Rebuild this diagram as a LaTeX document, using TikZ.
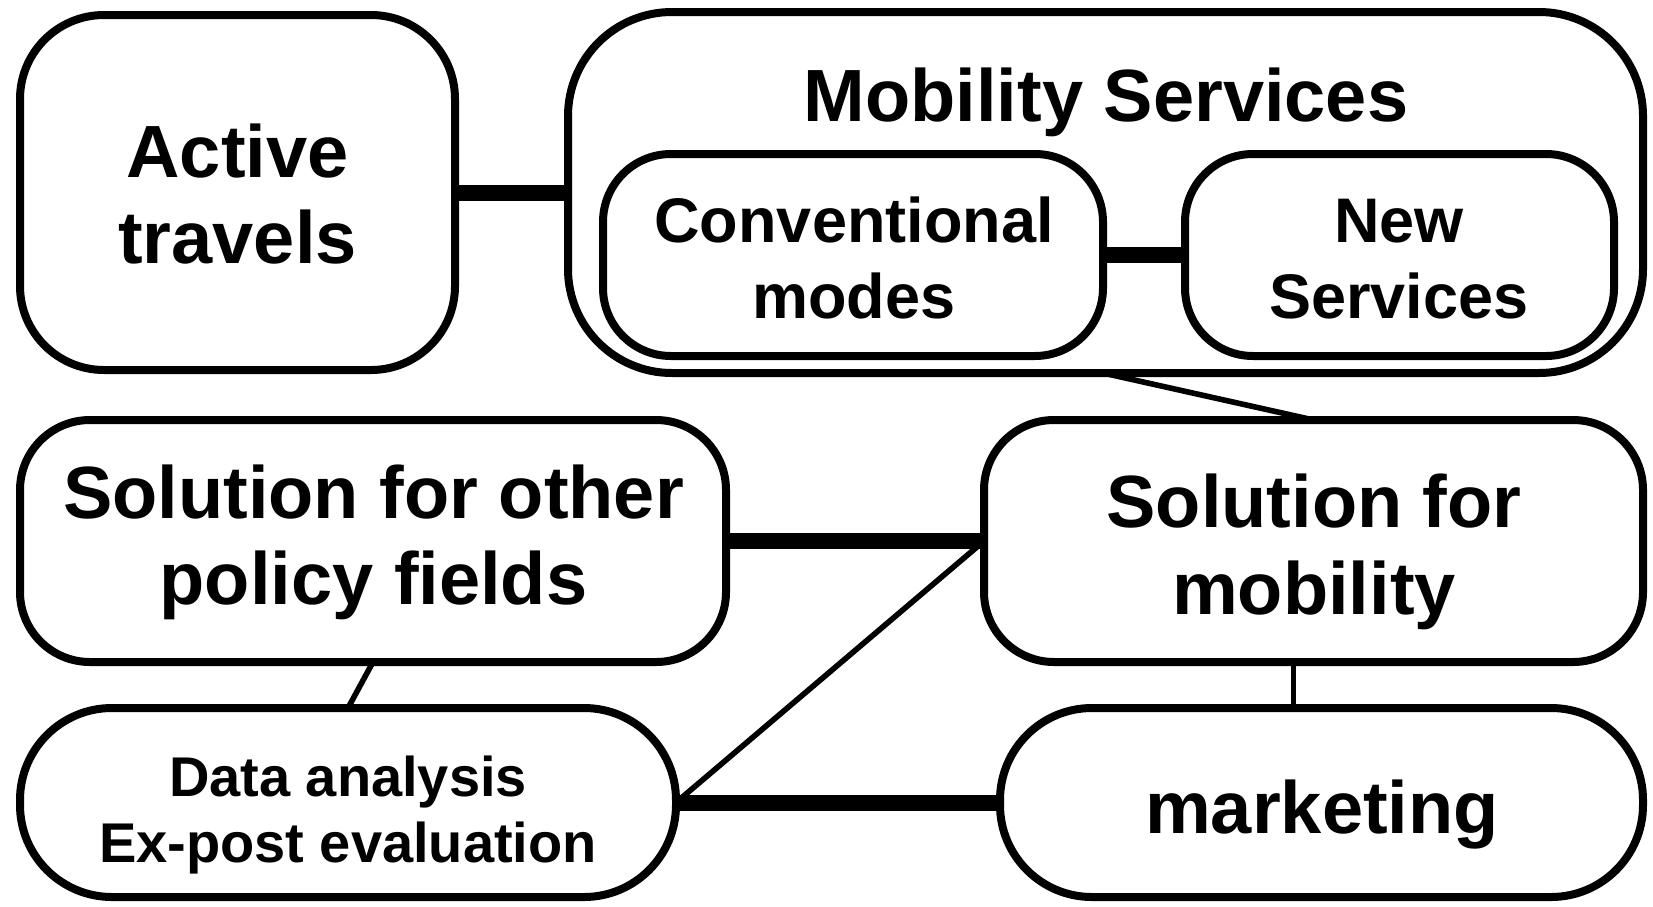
\documentclass[tikz,border=0pt]{standalone}
\usepackage{fontspec}
\setmainfont{Liberation Sans}
\begin{document}
\begin{tikzpicture}[x=0.5pt,y=-0.5pt,
  box/.style={draw, line width=4pt, rounded corners=#1, inner sep=0pt, outer sep=0pt},
  lab/.style={anchor=base, inner sep=0pt, font=\bfseries\fontsize{37}{43}\selectfont},
  labm/.style={anchor=base, inner sep=0pt, font=\bfseries\fontsize{31.5}{38}\selectfont},
  labs/.style={anchor=base, inner sep=0pt, font=\bfseries\fontsize{28}{33}\selectfont},
  heavy/.style={line width=8pt},
  light/.style={line width=2.8pt}]
\useasboundingbox (0,0) rectangle (1653,906);
% boxes
\node[box=42pt, minimum width=217.5pt, minimum height=177.5pt] (act) at (237.5,192.5) {};
\node[box=52pt, minimum width=537.5pt, minimum height=180.5pt] (mob) at (1105.5,192.5) {};
\node[box=34pt, minimum width=250pt, minimum height=101pt] (conv) at (853,255) {};
\node[box=34pt, minimum width=214.5pt, minimum height=101pt] (new) at (1399.5,255) {};
\node[box=35pt, minimum width=353pt, minimum height=121pt] (sop) at (373,541) {};
\node[box=35pt, minimum width=329.5pt, minimum height=121pt] (smob) at (1313.5,541) {};
\node[box=46pt, minimum width=328pt, minimum height=94.5pt] (data) at (348,802.5) {};
\node[box=46pt, minimum width=321.5pt, minimum height=94.5pt] (mkt) at (1321.5,802.5) {};
% labels
\node[lab] (act1) at (237.5,177) {Active};
\node[lab] (act2) at (237.5,263.5) {travels};
\node[lab] (mob1) at (1106,121) {Mobility Services};
\node[labm] (conv1) at (854,242.5) {Conventional};
\node[labm] (conv2) at (854,318) {modes};
\node[labm] (new1) at (1399,242.5) {New};
\node[labm] (new2) at (1399,318) {Services};
\node[lab] (sop1) at (373.5,518.7) {Solution for other};
\node[lab] (sop2) at (373.5,604) {policy fields};
\node[lab] (smob1) at (1314,527) {Solution for};
\node[lab] (smob2) at (1314,614.6) {mobility};
\node[labs] (data1) at (348,796) {Data analysis};
\node[labs] (data2) at (348,862) {Ex-post evaluation};
\node[lab] (mkt1) at (1322,833) {marketing};
% connectors
\draw[heavy] (act.east) -- (mob.west);
\draw[heavy] (conv.east) -- (new.west);
\draw[heavy] (sop.east) -- (smob.west);
\draw[heavy] (data.east) -- (mkt.west);
\draw[light] (mob.south -| conv.east) -- (smob.north);
\draw[light] (sop.south) -- (data.north);
\draw[light] ([xshift=-10pt]smob.south) -- ([xshift=-10pt]smob.south |- mkt.north);
\draw[light] (data.east) -- (smob.west);
\end{tikzpicture}
\end{document}
